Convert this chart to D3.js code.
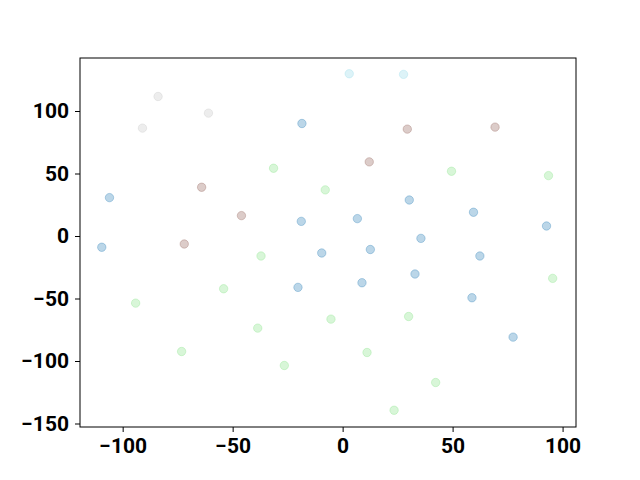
<!DOCTYPE html>
<html>
<head>
<meta charset="utf-8">
<script src="https://cdn.jsdelivr.net/npm/d3@7"></script>
<style>
  body { margin: 0; background: #fff; }
</style>
</head>
<body>
<svg id="chart" width="640" height="480"></svg>
<script>
(function () {
    'use strict';

    // points, one array per colour group
    var grayPts  = [[-83.9, 111.6], [-91.0, 86.3], [-61.0, 98.3]];
    var cyanPts  = [[3.0, 129.8], [27.7, 129.3]];
    var brownPts = [[29.4, 85.5], [69.3, 87.1], [12.1, 59.3], [-64.1, 39.0], [-46.0, 16.3], [-72.0, -6.4]];
    var bluePts  = [[-106.0, 30.7], [-109.5, -9.0], [-18.5, 90.0], [-18.8, 11.7], [6.7, 13.9],
                    [30.3, 28.8], [59.5, 19.0], [92.7, 8.0], [12.6, -10.8], [35.6, -1.9],
                    [62.4, -16.0], [32.9, -30.4], [8.8, -37.4], [58.8, -49.4], [77.5, -80.9],
                    [-9.5, -13.6], [-20.3, -41.1]];
    var greenPts = [[-31.4, 54.2], [-7.9, 36.9], [49.5, 51.8], [93.6, 48.3], [95.5, -33.9],
                    [30.0, -64.4], [-5.3, -66.5], [11.1, -93.2], [42.3, -117.2], [23.4, -139.4],
                    [-37.1, -16.0], [-94.1, -53.7], [-54.1, -42.2], [-38.6, -73.7], [-73.2, -92.4],
                    [-26.5, -103.6]];

    var xTicks = [-100, -50, 0, 50, 100];
    var yTicks = [-150, -100, -50, 0, 50, 100];

    var groups = [
        {pts: bluePts,  colour: '#1f77b4'},
        {pts: greenPts, colour: '#7fe07f'},
        {pts: brownPts, colour: '#8c564b'},
        {pts: grayPts,  colour: '#c4c4c4'},
        {pts: cyanPts,  colour: '#8fd6e8'}
    ];

    var margin = {top: 58, right: 64, bottom: 53, left: 80};
    var width = 640, height = 480;

    var svg = d3.select('#chart');

    var x = d3.scaleLinear()
        .domain([-119.4, 106.1])
        .range([margin.left, width - margin.right]);

    var y = d3.scaleLinear()
        .domain([-152.8, 142.4])
        .range([height - margin.bottom, margin.top]);

    groups.forEach(function (g) {
        svg.append('g')
            .selectAll('circle')
            .data(g.pts)
            .enter()
            .append('circle')
            .attr('cx', d => x(d[0]))
            .attr('cy', d => y(d[1]))
            .attr('r', 4.2)
            .style('fill', g.colour)
            .style('fill-opacity', 0.3)
            .style('stroke', g.colour)
            .style('stroke-opacity', 0.3)
            .style('stroke-width', 1);
    });

    var fmt = d => d < 0 ? '\u2212' + Math.abs(d) : d;

    var xAxis = d3.axisBottom(x)
        .tickValues(xTicks)
        .tickSize(5)
        .tickPadding(6)
        .tickFormat(fmt);

    var yAxis = d3.axisLeft(y)
        .tickValues(yTicks)
        .tickSize(5)
        .tickPadding(6)
        .tickFormat(fmt);

    svg.append('g')
        .attr('transform', `translate(0, ${height - margin.bottom})`)
        .call(xAxis)
        .attr('font-family', 'Roboto')
        .attr('font-size', 21)
        .attr('font-weight', 700)
        .call(g => g.select('.domain').remove());

    svg.append('g')
        .attr('transform', `translate(${margin.left}, 0)`)
        .call(yAxis)
        .attr('font-family', 'Roboto')
        .attr('font-size', 21)
        .attr('font-weight', 700)
        .call(g => g.select('.domain').remove());

    svg.selectAll('.tick text').style('fill', '#000');

    // frame round the plot area
    svg.append('rect')
        .attr('x', margin.left)
        .attr('y', margin.top)
        .attr('width', width - margin.left - margin.right)
        .attr('height', height - margin.top - margin.bottom)
        .style('fill', 'none')
        .style('stroke', '#000')
        .style('stroke-width', 1);
}());
</script>
</body>
</html>
